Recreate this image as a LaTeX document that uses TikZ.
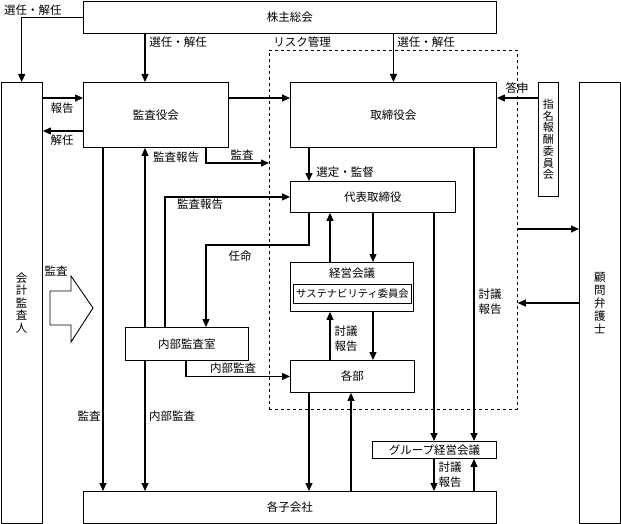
\documentclass[tikz,border=0pt]{standalone}
\usepackage{fontspec}
\setmainfont{Noto Sans CJK JP}
\usetikzlibrary{arrows.meta}
\begin{document}
\begin{tikzpicture}[x=1pt,y=-1pt,
  box/.style={draw,line width=0.9pt,anchor=north west,inner sep=0pt,font=\fontsize{11.5}{12.5}\selectfont},
  arr/.style={line width=1.1pt,-{Triangle[length=8pt,width=7pt]}},
  lbl/.style={inner sep=0pt,font=\fontsize{11.5}{15}\selectfont,align=center}]
\useasboundingbox (0,0) rectangle (621,524);
% x / y reference coordinates
\foreach \v in {103,145,165,186,206,309,330,351,373,434,474}{\coordinate (x\v) at (\v,0);}
\foreach \v in {98,131,163,229,303,245}{\coordinate (y\v) at (0,\v);}
% dashed risk-management frame
\node[draw,dashed,line width=0.8pt,anchor=north west,inner sep=0pt,minimum width=248pt,minimum height=359pt] (risk) at (269,50) {};
% boxes
\node[box,minimum width=413pt,minimum height=32pt] (kabu) at (83,1) {株主総会};
\node[box,minimum width=41.5pt,minimum height=441pt,align=center] (kaikei) at (0.5,82) {会\\計\\監\\査\\人};
\node[box,minimum width=145pt,minimum height=65pt] (kansa) at (83,82) {監査役会};
\node[box,minimum width=206pt,minimum height=65pt] (tori) at (290,82) {取締役会};
\node[box,minimum width=20pt,minimum height=114pt,align=center,font=\fontsize{11}{11.7}\selectfont] (shimei) at (538,82) {指\\名\\報\\酬\\委\\員\\会};
\node[box,minimum width=41pt,minimum height=441pt,align=center,font=\fontsize{11.5}{13}\selectfont] (komon) at (579,82) {顧\\問\\弁\\護\\士};
\node[box,minimum width=165pt,minimum height=31pt] (daihyo) at (290,181) {代表取締役};
\node[box,minimum width=123pt,minimum height=49pt] (keiei) at (290,262) {};
\node[lbl] (keieit) at (352,273) {経営会議};
\node[box,minimum width=118pt,minimum height=19pt,font=\fontsize{10.3}{12}\selectfont] (sus) at (293,284) {サステナビリティ委員会};
\node[box,minimum width=123pt,minimum height=33pt] (naibu) at (125,327) {内部監査室};
\node[box,minimum width=124pt,minimum height=32pt] (kakubu) at (290,360) {各部};
\node[box,minimum width=124pt,minimum height=17pt] (group) at (372,441) {グループ経営会議};
\node[box,minimum width=413pt,minimum height=32pt] (kogaisha) at (83,491) {各子会社};
% block arrow
\draw[line width=0.9pt] (50,291) -- (71,291) -- (71,276) -- (93,308) -- (71,342) -- (71,325) -- (50,325) -- cycle;
% connectors
\draw[arr] (kabu.west) -| (kaikei.north);
\draw[arr] (kabu.south -| x145) -- (kansa.north -| x145);
\draw[arr] (kabu.south -| tori.north) -- (tori.north);
\draw[arr] (kaikei.east |- y98) -- (kansa.west |- y98);
\draw[arr] (kansa.west |- y131) -- (kaikei.east |- y131);
\draw[arr] (kansa.east |- y98) -- (tori.west |- y98);
\draw[arr] (kansa.south -| x206) |- (risk.west |- y163);
\draw[arr] (shimei.west |- y98) -- (tori.east |- y98);
\draw[arr] (tori.south -| x309) -- (daihyo.north -| x309);
\draw[arr] (tori.south -| x474) -- (group.north -| x474);
\draw[arr] (daihyo.south -| x434) -- (group.north -| x434);
\draw[arr] (risk.east |- y229) -- (komon.west |- y229);
\draw[arr] (komon.west |- y303) -- (risk.east |- y303);
\draw[arr] (daihyo.south -| x373) -- (keiei.north -| x373);
\draw[arr] (keiei.north -| x330) -- (daihyo.south -| x330);
\draw[arr] (daihyo.south -| x309) -- (x309 |- y245) -| (naibu.north -| x206);
\draw[arr] (naibu.north -| x165) |- (daihyo.west);
\draw[arr] (naibu.north -| x145) -- (kansa.south -| x145);
\draw[arr] (naibu.south -| x145) -- (kogaisha.north -| x145);
\draw[arr] (kansa.south -| x103) -- (kogaisha.north -| x103);
\draw[arr] (naibu.south -| x186) |- (kakubu.west);
\draw[arr] (keiei.south -| x373) -- (kakubu.north -| x373);
\draw[arr] (kakubu.north -| x330) -- (keiei.south -| x330);
\draw[arr] (kakubu.south -| x309) -- (kogaisha.north -| x309);
\draw[arr] (kogaisha.north -| x351) -- (kakubu.south -| x351);
\draw[arr] (group.south -| x434) -- (kogaisha.north -| x434);
\draw[arr] (kogaisha.north -| x474) -- (group.south -| x474);
% labels
\node[lbl] (l1) at (33,10) {選任・解任};
\node[lbl] (l2) at (178,42) {選任・解任};
\node[lbl] (l3) at (302,42) {リスク管理};
\node[lbl] (l4) at (426,42) {選任・解任};
\node[lbl] (l5) at (62,108) {報告};
\node[lbl] (l6) at (62,140) {解任};
\node[lbl] (l7) at (517,88) {答申};
\node[lbl] (l8) at (176,157) {監査報告};
\node[lbl] (l9) at (242,155) {監査};
\node[lbl] (l10) at (345,172) {選定・監督};
\node[lbl] (l11) at (200,204) {監査報告};
\node[lbl] (l12) at (240,256) {任命};
\node[lbl] (l13) at (346,338.5) {討議\\報告};
\node[lbl] (l14) at (233,368) {内部監査};
\node[lbl] (l15) at (56,271) {監査};
\node[lbl] (l16) at (89,416) {監査};
\node[lbl] (l17) at (172,416) {内部監査};
\node[lbl] (l18) at (490,302) {討議\\報告};
\node[lbl] (l19) at (450,474.5) {討議\\報告};
\end{tikzpicture}
\end{document}
